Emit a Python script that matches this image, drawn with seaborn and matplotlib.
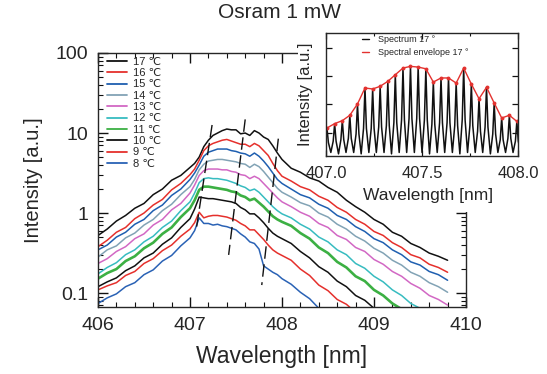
import matplotlib
matplotlib.use("Agg")
import numpy as np
import pandas as pd
import matplotlib.pyplot as plt
import seaborn as sns
from matplotlib.lines import Line2D
from matplotlib.patches import Rectangle
from matplotlib.ticker import MultipleLocator, LogLocator, FuncFormatter, NullFormatter, FixedLocator

# ---------------- data: main spectra (log10 of intensity, a.u.) ----------------
wavelength = [406.0, 406.1, 406.2, 406.3, 406.4, 406.5, 406.6, 406.7, 406.8, 406.9, 407.0,
              407.05, 407.1, 407.15, 407.2, 407.25, 407.3, 407.35, 407.4, 407.45, 407.5,
              407.55, 407.6, 407.65, 407.7, 407.75, 407.8, 407.85, 407.9, 407.95, 408.0,
              408.1, 408.2, 408.3, 408.4, 408.5, 408.6, 408.7, 408.8, 408.9, 409.0,
              409.1, 409.2, 409.3, 409.4, 409.5, 409.6, 409.7, 409.8]

temps = ["17 ℃", "16 ℃", "15 ℃", "14 ℃", "13 ℃", "12 ℃", "11 ℃", "10 ℃", "9 ℃", "8 ℃"]

log_i_17 = [-0.28, -0.20, -0.10, -0.03, 0.06, 0.12, 0.23, 0.30, 0.41, 0.47, 0.57,
            0.62, 0.70, 0.83, 0.91, 0.97, 1.00, 1.03, 1.05, 1.04, 1.04, 0.99, 1.00, 0.97, 1.03, 1.00, 0.95, 0.92, 0.84, 0.75, 0.67,
            0.56, 0.51, 0.44, 0.40, 0.32, 0.26, 0.16, 0.08, 0.01, -0.08, -0.14, -0.24, -0.29, -0.38, -0.43, -0.50, -0.54, -0.59]
log_i_16 = [-0.42, -0.34, -0.24, -0.18, -0.07, 0.00, 0.10, 0.17, 0.29, 0.37, 0.48,
            0.55, 0.66, 0.78, 0.84, 0.87, 0.89, 0.91, 0.92, 0.90, 0.88, 0.86, 0.86, 0.83, 0.87, 0.84, 0.78, 0.72, 0.62, 0.53, 0.46,
            0.40, 0.33, 0.29, 0.21, 0.16, 0.07, 0.01, -0.08, -0.14, -0.23, -0.28, -0.37, -0.43, -0.52, -0.56, -0.64, -0.68, -0.74]
log_i_15 = [-0.46, -0.40, -0.30, -0.24, -0.14, -0.08, 0.03, 0.10, 0.22, 0.30, 0.42,
            0.50, 0.60, 0.71, 0.76, 0.78, 0.80, 0.80, 0.80, 0.78, 0.77, 0.75, 0.74, 0.71, 0.75, 0.71, 0.65, 0.58, 0.50, 0.42, 0.37,
            0.30, 0.23, 0.19, 0.11, 0.06, -0.03, -0.08, -0.17, -0.23, -0.32, -0.37, -0.46, -0.52, -0.61, -0.65, -0.73, -0.77, -0.84]
log_i_14 = [-0.55, -0.46, -0.41, -0.31, -0.25, -0.15, -0.08, 0.03, 0.11, 0.23, 0.33,
            0.42, 0.54, 0.61, 0.65, 0.66, 0.67, 0.67, 0.66, 0.65, 0.64, 0.62, 0.61, 0.57, 0.61, 0.58, 0.52, 0.45, 0.38, 0.31, 0.26,
            0.20, 0.13, 0.09, 0.00, -0.05, -0.14, -0.20, -0.29, -0.35, -0.44, -0.50, -0.59, -0.65, -0.74, -0.79, -0.87, -0.92, -0.99]
log_i_13 = [-0.63, -0.57, -0.48, -0.42, -0.32, -0.26, -0.15, -0.08, 0.04, 0.12, 0.25,
            0.35, 0.47, 0.53, 0.55, 0.55, 0.55, 0.54, 0.54, 0.52, 0.51, 0.48, 0.47, 0.43, 0.46, 0.43, 0.37, 0.31, 0.25, 0.19, 0.14,
            0.08, 0.01, -0.04, -0.13, -0.18, -0.28, -0.33, -0.43, -0.48, -0.58, -0.64, -0.73, -0.79, -0.88, -0.94, -1.03, -1.08, -1.15]
log_i_12 = [-0.76, -0.68, -0.62, -0.52, -0.46, -0.36, -0.29, -0.18, -0.10, 0.03, 0.14,
            0.25, 0.38, 0.43, 0.44, 0.43, 0.43, 0.42, 0.41, 0.39, 0.37, 0.34, 0.32, 0.28, 0.30, 0.26, 0.20, 0.14, 0.08, 0.03, -0.01,
            -0.06, -0.14, -0.20, -0.30, -0.36, -0.46, -0.52, -0.63, -0.69, -0.79, -0.86, -0.96, -1.03, -1.13, -1.19, -1.28, -1.34, -1.44]
log_i_11 = [-0.82, -0.75, -0.70, -0.60, -0.54, -0.44, -0.37, -0.26, -0.18, -0.05, 0.06,
            0.16, 0.29, 0.33, 0.33, 0.32, 0.31, 0.30, 0.29, 0.27, 0.26, 0.22, 0.20, 0.16, 0.18, 0.13, 0.08, 0.02, -0.04, -0.08, -0.11,
            -0.16, -0.25, -0.32, -0.43, -0.50, -0.61, -0.68, -0.79, -0.85, -0.96, -1.03, -1.13, -1.20, -1.29, -1.36, -1.45, -1.52, -1.60]
log_i_10 = [-0.92, -0.86, -0.81, -0.72, -0.66, -0.56, -0.50, -0.39, -0.31, -0.18, -0.07,
            0.05, 0.20, 0.19, 0.18, 0.18, 0.17, 0.16, 0.15, 0.14, 0.12, 0.07, 0.04, -0.01, -0.01, -0.06, -0.12, -0.19, -0.25, -0.29, -0.32,
            -0.38, -0.48, -0.56, -0.67, -0.74, -0.85, -0.92, -1.03, -1.09, -1.19, -1.27, -1.36, -1.45, -1.54, -1.63, -1.72, -1.81, -1.90]
log_i_9 = [-0.96, -0.91, -0.87, -0.78, -0.73, -0.63, -0.57, -0.47, -0.40, -0.29, -0.20,
           -0.12, 0.01, -0.06, -0.04, -0.03, -0.03, -0.04, -0.05, -0.07, -0.09, -0.13, -0.16, -0.21, -0.21, -0.27, -0.33, -0.40, -0.46, -0.50, -0.53,
           -0.59, -0.70, -0.78, -0.90, -0.97, -1.08, -1.14, -1.24, -1.31, -1.40, -1.49, -1.58, -1.67, -1.76, -1.85, -1.94, -2.03, -2.12]
log_i_8 = [-1.13, -1.06, -1.01, -0.92, -0.87, -0.77, -0.71, -0.60, -0.53, -0.41, -0.31,
           -0.22, -0.06, -0.13, -0.13, -0.15, -0.14, -0.16, -0.17, -0.19, -0.21, -0.26, -0.30, -0.36, -0.38, -0.45, -0.66, -0.70, -0.74, -0.77, -0.82,
           -0.89, -0.99, -1.07, -1.19, -1.27, -1.38, -1.48, -1.58, -1.68, -1.78, -1.88, -1.98, -2.08, -2.18, -2.28, -2.38, -2.48, -2.58]

# mode-hop guide lines (wavelength, intensity at both ends)
guide_wl = [[407.24, 407.07], [407.60, 407.42], [407.96, 407.78]]
guide_int = [[12.6, 0.65], [14.8, 0.30], [8.5, 0.126]]

# ---------------- data: inset (linear intensity, a.u.) ----------------
mode_wl = [407.005, 407.045, 407.085, 407.124, 407.164, 407.203, 407.243, 407.282, 407.322,
           407.361, 407.401, 407.440, 407.480, 407.520, 407.559, 407.599, 407.638, 407.678,
           407.717, 407.757, 407.797, 407.836, 407.876, 407.915, 407.955, 407.994]
envelope = [0.233, 0.264, 0.285, 0.323, 0.403, 0.516, 0.509, 0.528, 0.563, 0.610, 0.657, 0.669, 0.664,
            0.652, 0.558, 0.587, 0.587, 0.551, 0.657, 0.544, 0.440, 0.521, 0.410, 0.304, 0.323, 0.280]
shoulder = [0.13, 0.14, 0.15, 0.16, 0.19, 0.23, 0.23, 0.24, 0.25, 0.27, 0.29, 0.30, 0.30,
            0.29, 0.26, 0.27, 0.27, 0.25, 0.29, 0.25, 0.21, 0.24, 0.19, 0.15, 0.16, 0.14]
trough = [0.06, 0.06, 0.05, 0.06, 0.06, 0.05, 0.06, 0.06, 0.06, 0.05, 0.06, 0.06, 0.06, 0.06,
          0.05, 0.06, 0.06, 0.06, 0.05, 0.06, 0.06, 0.06, 0.05, 0.06, 0.06, 0.06, 0.06]

# ---------------- style ----------------
sns.set_style("ticks")
plt.rcParams["font.family"] = ["Liberation Sans", "DejaVu Sans"]
plt.rcParams["axes.linewidth"] = 1.0

colors = ["#111111", "#e5302c", "#1f5fb0", "#82a3b5", "#d268c4",
          "#37bcc0", "#3cb043", "#111111", "#e5302c", "#2a62b5"]
widths = [1.1, 1.1, 1.1, 1.1, 1.1, 1.1, 1.9, 1.1, 1.1, 1.1]
curves = [log_i_17, log_i_16, log_i_15, log_i_14, log_i_13,
          log_i_12, log_i_11, log_i_10, log_i_9, log_i_8]

W, H = 547, 374
fig = plt.figure(figsize=(W / 100, H / 100), dpi=100)
fig.patch.set_facecolor("white")

ax = fig.add_axes([98 / W, 1 - 307 / H, 368 / W, 254 / H])
ax.set_zorder(0)

for name, vals, c, lw in zip(temps, curves, colors, widths):
    df = pd.DataFrame({"wavelength": wavelength, "intensity": np.power(10.0, vals)})
    sns.lineplot(data=df, x="wavelength", y="intensity", color=c, linewidth=lw,
                 estimator=None, sort=False, ax=ax, legend=False)

for gx, gy in zip(guide_wl, guide_int):
    ax.plot(gx, gy, color="#111111", lw=1.0, dashes=(9, 4))

ax.set_yscale("log")
ax.set_xlim(406, 410)
ax.set_ylim(0.067, 100)
ax.xaxis.set_major_locator(MultipleLocator(1))
ax.xaxis.set_minor_locator(MultipleLocator(0.2))
ax.yaxis.set_major_locator(LogLocator(base=10, numticks=10))
ax.yaxis.set_minor_locator(LogLocator(base=10, subs=np.arange(2, 10), numticks=20))
ax.yaxis.set_major_formatter(FuncFormatter(lambda v, p: f"{v:g}"))
ax.yaxis.set_minor_formatter(NullFormatter())
ax.tick_params(which="both", direction="in", top=True, right=True, color="#111111")
ax.tick_params(which="major", length=7, width=1.0, labelsize=14, pad=7)
ax.tick_params(which="minor", length=3.5, width=0.8)
ax.set_xlabel("Wavelength [nm]", fontsize=16.5, labelpad=8)
ax.set_ylabel("Intensity [a.u.]", fontsize=14.5, labelpad=9)

handles = [Line2D([], [], color=c, lw=1.3) for c in colors]
ax.legend(handles, temps, loc="upper left", bbox_to_anchor=(0.025, 0.985),
          frameon=False, fontsize=8, handlelength=1.8, handletextpad=0.5,
          labelspacing=0.12, borderpad=0, borderaxespad=0)

fig.text(280 / W, 1 - 13 / H, "Osram 1 mW", ha="center", va="center", fontsize=15)

# white masks where the pasted inset hid the main frame
fig.patches.append(Rectangle((298 / W, 1 - 156 / H), 28 / W, 126 / H, transform=fig.transFigure,
                             facecolor="white", edgecolor="none", zorder=1))
fig.patches.append(Rectangle((455 / W, 1 - 212 / H), 25 / W, 56 / H, transform=fig.transFigure,
                             facecolor="white", edgecolor="none", zorder=1))

# ---------------- inset ----------------
axin = fig.add_axes([326 / W, 1 - 156 / H, 192 / W, 123 / H])
axin.set_zorder(2)
axin.set_facecolor("white")

half = 0.0198
sh = 0.0075
spec_x, spec_y = [], []
for k in range(len(mode_wl)):
    spec_x += [mode_wl[k] - half, mode_wl[k] - sh, mode_wl[k], mode_wl[k] + sh]
    spec_y += [trough[k], shoulder[k], envelope[k], shoulder[k]]
spec_x.append(mode_wl[-1] + half)
spec_y.append(trough[-1])
spec_df = pd.DataFrame({"wavelength": spec_x, "intensity": spec_y})
env_df = pd.DataFrame({"wavelength": mode_wl, "intensity": envelope})

sns.lineplot(data=spec_df, x="wavelength", y="intensity", color="#111111", linewidth=1.1,
             estimator=None, sort=False, ax=axin, legend=False)
sns.lineplot(data=env_df, x="wavelength", y="intensity", color="#e3322f", linewidth=1.0,
             marker="o", markersize=2.8, markeredgewidth=0, estimator=None, sort=False,
             ax=axin, legend=False)

axin.set_xlim(407.0, 408.0)
axin.set_ylim(0.035, 0.905)
axin.xaxis.set_major_locator(FixedLocator([407.0, 407.5, 408.0]))
axin.xaxis.set_major_formatter(FuncFormatter(lambda v, p: f"{v:.1f}"))
axin.xaxis.set_minor_locator(MultipleLocator(0.25))
axin.yaxis.set_major_locator(FixedLocator([0.2, 0.4, 0.6, 0.8]))
axin.yaxis.set_major_formatter(NullFormatter())
axin.tick_params(which="both", direction="in", top=True, right=True, color="#111111")
axin.tick_params(which="major", length=4, width=0.9, labelsize=12, pad=7)
axin.tick_params(which="minor", length=2.5, width=0.8)
axin.set_xlabel("Wavelength [nm]", fontsize=12.5)
axin.xaxis.set_label_coords(0.53, -0.26)
axin.set_ylabel("Intensity [a.u.]", fontsize=12)
axin.yaxis.set_label_coords(-0.07, 0.5)

in_handles = [Line2D([], [], color="#111111", lw=1.0),
              Line2D([], [], color="#e3322f", lw=1.0)]
axin.legend(in_handles, ["Spectrum 17 °", "Spectral envelope 17 °"], loc="upper left",
            bbox_to_anchor=(0.185, 0.985), frameon=False, fontsize=6.5, handlelength=0.8,
            handletextpad=1.0, labelspacing=0.45, borderpad=0, borderaxespad=0)

fig.savefig("out.png", dpi=100, facecolor="white")
